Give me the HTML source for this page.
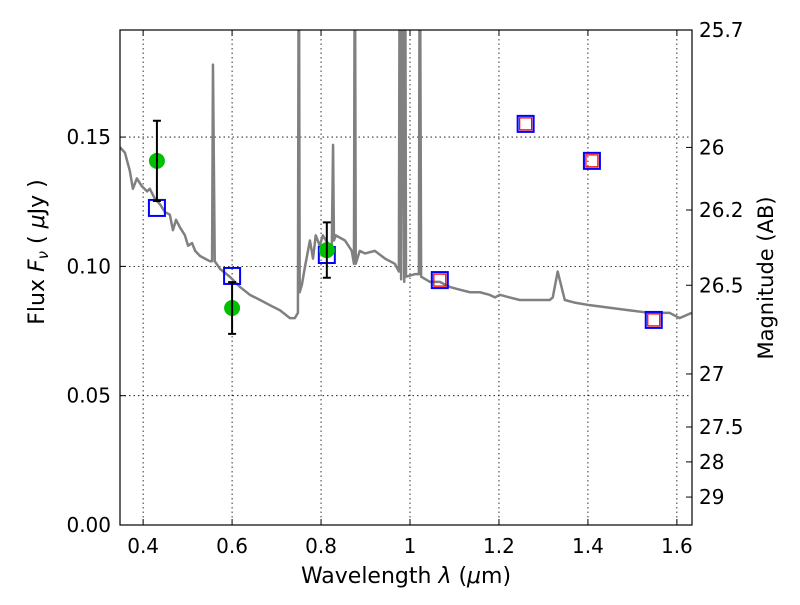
<!DOCTYPE html>
<html><head><meta charset="utf-8"><style>
body{margin:0;background:#fff;width:800px;height:600px;overflow:hidden}
svg{font-family:"DejaVu Sans","Liberation Sans",sans-serif}
</style></head><body>
<svg id="chart" width="800" height="600">
<defs><clipPath id="clip"><rect x="120" y="30" width="572" height="495"/></clipPath></defs>
<g id="grid"></g>
<g id="marks" clip-path="url(#clip)"></g>
<rect x="120" y="30" width="572" height="495" fill="none" stroke="#000" stroke-width="1.2"/>
<g id="axes"></g>
<text x="406" y="583" font-size="22" text-anchor="middle">Wavelength  <tspan font-style="italic">λ</tspan> (<tspan font-style="italic">μ</tspan>m)</text>
<text transform="translate(44,252) rotate(-90)" font-size="22" text-anchor="middle">Flux  <tspan font-style="italic">F</tspan><tspan font-style="italic" font-size="15" dy="4">ν</tspan><tspan dy="-4">  ( </tspan><tspan font-style="italic">μ</tspan>Jy )</text>
<text transform="translate(773,278) rotate(-90)" font-size="21" text-anchor="middle">Magnitude (AB)</text>
</svg>
<script>
const specW=[.348,.359,.370,.377,.386,.397,.409,.415,.427,.438,.449,.460,.467,.474,.483,.494,.501,.510,.517,.528,.539,.550,.555,.557,.561,.573,.595,.618,.640,.663,.685,.708,.730,.741,.748,.750,.752,.757,.764,.775,.782,.788,.797,.804,.811,.820,.824,.827,.829,.833,.854,.869,.874,.876,.878,.887,.899,.921,.944,.966,.975,.977,.980,.982,.987,.989,.991,1.011,1.020,1.022,1.025,1.045,1.067,1.090,1.112,1.135,1.157,1.179,1.191,1.202,1.224,1.247,1.292,1.314,1.321,1.332,1.348,1.370,1.404,1.449,1.494,1.539,1.584,1.606,1.633];
const specF=[.146,.144,.137,.130,.134,.131,.129,.130,.126,.124,.121,.120,.114,.118,.115,.112,.108,.109,.106,.104,.103,.102,.102,.178,.102,.099,.096,.092,.089,.087,.085,.083,.080,.080,.082,.25,.09,.093,.100,.110,.103,.112,.108,.112,.110,.108,.105,.147,.110,.112,.110,.106,.101,.25,.101,.106,.105,.106,.103,.101,.098,.25,.095,.25,.094,.25,.096,.097,.097,.25,.096,.094,.094,.092,.091,.090,.090,.089,.088,.089,.088,.087,.087,.087,.088,.098,.087,.086,.085,.084,.083,.082,.082,.080,.082];
const obsW=[0.431,0.600,0.813];
const obsF=[0.1408,0.0839,0.1063];
const obsErr=[0.0155,0.0100,0.0107];
const modW=[0.431,0.600,0.813,1.067,1.260,1.409,1.548];
const modF=[0.1226,0.0963,0.1044,0.0947,0.1551,0.1408,0.0793];
const redW=[1.067,1.260,1.409,1.548];
const redF=[0.0947,0.1551,0.1408,0.0793];
const xTicks=[0.4,0.6,0.8,1.0,1.2,1.4,1.6];
const xTickLabels=["0.4","0.6","0.8","1","1.2","1.4","1.6"];
const yTicks=[0,0.05,0.10,0.15];
const yTickLabels=["0.00","0.05","0.10","0.15"];
const magLabels=["25.7","26","26.2","26.5","27","27.5","28","29"];
const magFlux=[0.1914,0.146,0.1218,0.0927,0.0584,0.0379,0.0244,0.0108];

const X0=0.348,X1=1.634,Y0=0,Y1=0.1914;
const L=120,R=692,T=30,B=525;
const x=w=>L+(w-X0)/(X1-X0)*(R-L);
const y=f=>B-(f-Y0)/(Y1-Y0)*(B-T);
const NS="http://www.w3.org/2000/svg";
function mk(tag,attrs,parent){const e=document.createElementNS(NS,tag);for(const k in attrs)e.setAttribute(k,attrs[k]);parent.appendChild(e);return e;}
const grid=document.getElementById('grid'),marks=document.getElementById('marks'),axes=document.getElementById('axes');

xTicks.forEach((t,i)=>{
  const g=mk('line',{x1:x(t),x2:x(t),y1:T,y2:B,stroke:'#000','stroke-width':0.8,'stroke-dasharray':'1.5,3'},grid);
  
  
  const tk=mk('line',{x1:x(t),x2:x(t),y1:B,y2:B-6,stroke:'#000'},axes);
  
  
  const tk2=mk('line',{x1:x(t),x2:x(t),y1:T,y2:T+6,stroke:'#000'},axes);
  
  
  const tx=mk('text',{x:x(t),y:B+28,'font-size':20,'text-anchor':'middle'},axes);
  tx.textContent=xTickLabels[i];
  
  
});
yTicks.forEach((t,i)=>{
  const g=mk('line',{x1:L,x2:R,y1:y(t),y2:y(t),stroke:'#000','stroke-width':0.8,'stroke-dasharray':'1.5,3'},grid);
  
  
  const tk=mk('line',{x1:L,x2:L+6,y1:y(t),y2:y(t),stroke:'#000'},axes);
  
  
  const tx=mk('text',{x:L-9,y:y(t)+7,'font-size':20,'text-anchor':'end'},axes);
  tx.textContent=yTickLabels[i];
  
  
});
magLabels.forEach((m,i)=>{
  const yy=y(magFlux[i]);
  const tk=mk('line',{x1:R,x2:R-6,y1:yy,y2:yy,stroke:'#000'},axes);
  
  
  const tx=mk('text',{x:R+7,y:yy+7,'font-size':20},axes);
  tx.textContent=m;
  
  
});

const sp=mk('polyline',{points:specW.map((w,i)=>x(w)+','+y(specF[i])).join(' '),fill:'none',stroke:'#808080','stroke-width':2.5,'stroke-linejoin':'round'},marks);



modW.forEach((w,i)=>{
  const r=mk('rect',{x:x(w)-8,y:y(modF[i])-8,width:16,height:16,fill:'none',stroke:'#0000ff','stroke-width':2},marks);
  
  
});
redW.forEach((w,i)=>{
  const r=mk('rect',{x:x(w)-6,y:y(redF[i])-6,width:12,height:12,fill:'none',stroke:'#ff0000','stroke-width':1.3},marks);
  
  
});
obsW.forEach((w,i)=>{
  const xx=x(w),y1=y(obsF[i]+obsErr[i]),y2=y(obsF[i]-obsErr[i]);
  const c=mk('circle',{cx:xx,cy:y(obsF[i]),r:8,fill:'#00c000'},marks);
  
  
  const e=mk('path',{d:`M${xx},${y1}V${y2}M${xx-4},${y1}H${xx+4}M${xx-4},${y2}H${xx+4}`,stroke:'#000','stroke-width':2,fill:'none'},marks);
  
  
});
</script>
</body></html>
